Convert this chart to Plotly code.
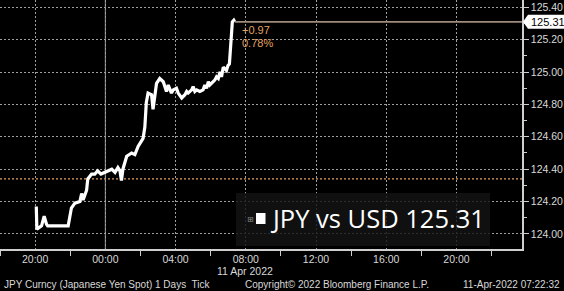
import plotly.graph_objects as go

# ---- data ----
times = [
    "2022-04-10 20:04", "2022-04-10 20:06", "2022-04-10 20:22", "2022-04-10 20:31",
    "2022-04-10 20:39", "2022-04-10 20:43", "2022-04-10 21:18", "2022-04-10 21:53",
    "2022-04-10 22:04", "2022-04-10 22:16", "2022-04-10 22:33", "2022-04-10 22:39",
    "2022-04-10 22:44", "2022-04-10 22:56", "2022-04-10 23:00", "2022-04-10 23:13",
    "2022-04-10 23:24", "2022-04-10 23:34", "2022-04-10 23:45", "2022-04-10 23:58",
    "2022-04-11 00:09", "2022-04-11 00:22", "2022-04-11 00:33", "2022-04-11 00:43",
    "2022-04-11 00:50", "2022-04-11 00:55", "2022-04-11 01:00", "2022-04-11 01:13",
    "2022-04-11 01:30", "2022-04-11 01:41", "2022-04-11 01:52", "2022-04-11 02:04",
    "2022-04-11 02:09", "2022-04-11 02:15", "2022-04-11 02:20", "2022-04-11 02:26",
    "2022-04-11 02:38", "2022-04-11 02:43", "2022-04-11 02:49", "2022-04-11 02:55",
    "2022-04-11 03:06", "2022-04-11 03:18", "2022-04-11 03:29", "2022-04-11 03:35",
    "2022-04-11 03:46", "2022-04-11 03:52", "2022-04-11 04:03", "2022-04-11 04:09",
    "2022-04-11 04:21", "2022-04-11 04:32", "2022-04-11 04:38", "2022-04-11 04:43",
    "2022-04-11 04:55", "2022-04-11 05:00", "2022-04-11 05:06", "2022-04-11 05:12",
    "2022-04-11 05:23", "2022-04-11 05:34", "2022-04-11 05:40", "2022-04-11 05:46",
    "2022-04-11 05:52", "2022-04-11 05:57", "2022-04-11 06:14", "2022-04-11 06:20",
    "2022-04-11 06:26", "2022-04-11 06:32", "2022-04-11 06:37", "2022-04-11 06:43",
    "2022-04-11 06:54", "2022-04-11 06:59", "2022-04-11 07:04", "2022-04-11 07:07",
    "2022-04-11 07:11", "2022-04-11 07:14", "2022-04-11 07:19", "2022-04-11 07:22",
]
prices = [
    124.17, 124.03, 124.05, 124.11,
    124.06, 124.05, 124.05, 124.05,
    124.16, 124.19, 124.20, 124.25,
    124.21, 124.27, 124.34, 124.37,
    124.37, 124.39, 124.37, 124.38,
    124.39, 124.40, 124.38, 124.41,
    124.39, 124.33, 124.40, 124.48,
    124.50, 124.49, 124.54, 124.58,
    124.59, 124.66, 124.81, 124.87,
    124.86, 124.77, 124.86, 124.93,
    124.96, 124.94, 124.88, 124.92,
    124.87, 124.89, 124.90, 124.87,
    124.84, 124.86, 124.88, 124.87,
    124.89, 124.91, 124.88, 124.89,
    124.88, 124.89, 124.92, 124.90,
    124.94, 124.92, 124.95, 124.97,
    124.96, 125.00, 124.97, 125.03,
    125.01, 125.04, 125.05, 125.15,
    125.28, 125.31, 125.32, 125.31,
]
last_price = 125.31
prev_close = 124.34
change_txt = "+0.97"
change_pct_txt = "0.78%"
ytick_vals = [124.00, 124.20, 124.40, 124.60, 124.80, 125.00, 125.20, 125.40]
x_start = "2022-04-10 18:00"
x_end = "2022-04-11 23:44"
midnight = "2022-04-11 00:00"
legend_text = "JPY vs USD 125.31"
date_label = "11 Apr 2022"
footer_left = "JPY Curncy (Japanese Yen Spot) 1 Days  Tick"
footer_mid = "Copyright© 2022 Bloomberg Finance L.P."
footer_right = "11-Apr-2022 07:22:32"

GRID = "#a0a0a0"
AXIS = "#cfcfcf"
TXT = "#d9d9d9"
ORANGE = "#e0a060"
SANS = "Liberation Sans, Arial, sans-serif"

fig = go.Figure()

fig.add_trace(go.Scatter(
    x=times, y=prices, mode="lines",
    line=dict(color="white", width=3.2),
    hoverinfo="skip", showlegend=False,
))

# last price horizontal line
fig.add_trace(go.Scatter(
    x=[times[-1], x_end], y=[last_price, last_price], mode="lines",
    line=dict(color="#a08c7c", width=1.6),
    hoverinfo="skip", showlegend=False,
))

shapes = [
    # previous close dotted orange line
    dict(type="line", xref="paper", x0=0, x1=1, yref="y", y0=prev_close, y1=prev_close,
         line=dict(color=ORANGE, width=1.3, dash="2px,2px"), layer="below"),
    # solid midnight separator
    dict(type="line", xref="x", x0=midnight, x1=midnight, yref="paper", y0=0, y1=1,
         line=dict(color="#9a9a9a", width=1), layer="below"),
    # legend box
    dict(type="rect", xref="paper", yref="paper",
         x0=236 / 522, x1=490 / 522, y0=(249 - 246) / 249, y1=(249 - 193) / 249,
         fillcolor="rgba(20,20,20,0.82)", line=dict(width=0), layer="above"),
    # white square marker in legend
    dict(type="rect", xref="paper", yref="paper",
         x0=256 / 522, x1=265.5 / 522, y0=(249 - 224) / 249, y1=(249 - 213) / 249,
         fillcolor="white", line=dict(width=0), layer="above"),
    # last price tag on the right axis
    dict(type="path", xref="paper", xsizemode="pixel", xanchor=1,
         yref="y", ysizemode="pixel", yanchor=last_price,
         path="M 1,0 L 6,7 L 42,7 L 42,-7 L 6,-7 Z",
         fillcolor="white", line=dict(width=0), layer="above"),
]

annotations = [
    dict(x=times[-1], y=last_price, xref="x", yref="y", text=change_txt,
         xanchor="left", yanchor="middle", xshift=5, yshift=-8, showarrow=False,
         font=dict(family=SANS, size=11, color=ORANGE)),
    dict(x=times[-1], y=last_price, xref="x", yref="y", text=change_pct_txt,
         xanchor="left", yanchor="middle", xshift=5, yshift=-21, showarrow=False,
         font=dict(family=SANS, size=11, color=ORANGE)),
    dict(x=1, y=last_price, xref="paper", yref="y", text=f"{last_price:.2f}",
         xanchor="left", yanchor="middle", xshift=7, showarrow=False,
         font=dict(family=SANS, size=11, color="black")),
    dict(x=268 / 522, y=(249 - 218) / 249, xref="paper", yref="paper", text=legend_text,
         xanchor="left", yanchor="middle", showarrow=False,
         font=dict(family="Open Sans, sans-serif", size=25.5, color="white")),
    dict(x=250 / 522, y=(249 - 219) / 249, xref="paper", yref="paper", text="⊞",
         xanchor="center", yanchor="middle", showarrow=False,
         font=dict(family="DejaVu Sans", size=8, color="#8a8a8a")),
    dict(x=245 / 522, y=(249 - 271) / 249, xref="paper", yref="paper", text=date_label,
         xanchor="center", yanchor="middle", showarrow=False,
         font=dict(family=SANS, size=10.5, color=TXT)),
    dict(x=2 / 522, y=(249 - 284) / 249, xref="paper", yref="paper", text=footer_left,
         xanchor="left", yanchor="middle", showarrow=False,
         font=dict(family=SANS, size=10, color=TXT)),
    dict(x=243 / 522, y=(249 - 284) / 249, xref="paper", yref="paper", text=footer_mid,
         xanchor="left", yanchor="middle", showarrow=False,
         font=dict(family=SANS, size=10, color=TXT)),
    dict(x=562 / 522, y=(249 - 284) / 249, xref="paper", yref="paper", text=footer_right,
         xanchor="right", yanchor="middle", showarrow=False,
         font=dict(family=SANS, size=10, color=TXT)),
]

fig.update_layout(
    width=564, height=291,
    margin=dict(l=0, r=42, t=0, b=42),
    paper_bgcolor="black", plot_bgcolor="black",
    shapes=shapes, annotations=annotations,
    xaxis=dict(
        type="date", range=[x_start, x_end],
        tick0="2022-04-10 20:00", dtick=4 * 3600 * 1000, tickformat="%H:%M",
        ticks="", showgrid=True, gridcolor=GRID, gridwidth=1, griddash="2px,2px",
        showline=True, linecolor=AXIS, linewidth=1.5,
        tickfont=dict(family=SANS, size=10.5, color=TXT),
        minor=dict(tick0="2022-04-10 18:00", dtick=4 * 3600 * 1000,
                   ticks="outside", ticklen=5, tickcolor=AXIS, showgrid=False),
        zeroline=False, fixedrange=True,
    ),
    yaxis=dict(
        side="right", range=[123.907, 125.445],
        tickvals=ytick_vals, ticktext=[f"{v:.2f}" for v in ytick_vals],
        ticks="outside", ticklen=5, tickcolor=AXIS,
        showgrid=True, gridcolor=GRID, gridwidth=1, griddash="2px,2px",
        showline=True, linecolor=AXIS, linewidth=1.5,
        tickfont=dict(family=SANS, size=10.5, color=TXT),
        minor=dict(dtick=0.1, tick0=124.0, ticks="outside", ticklen=3,
                   tickcolor=AXIS, showgrid=False),
        zeroline=False, fixedrange=True,
    ),
)

fig.write_html("out.html", config={"displayModeBar": False})
